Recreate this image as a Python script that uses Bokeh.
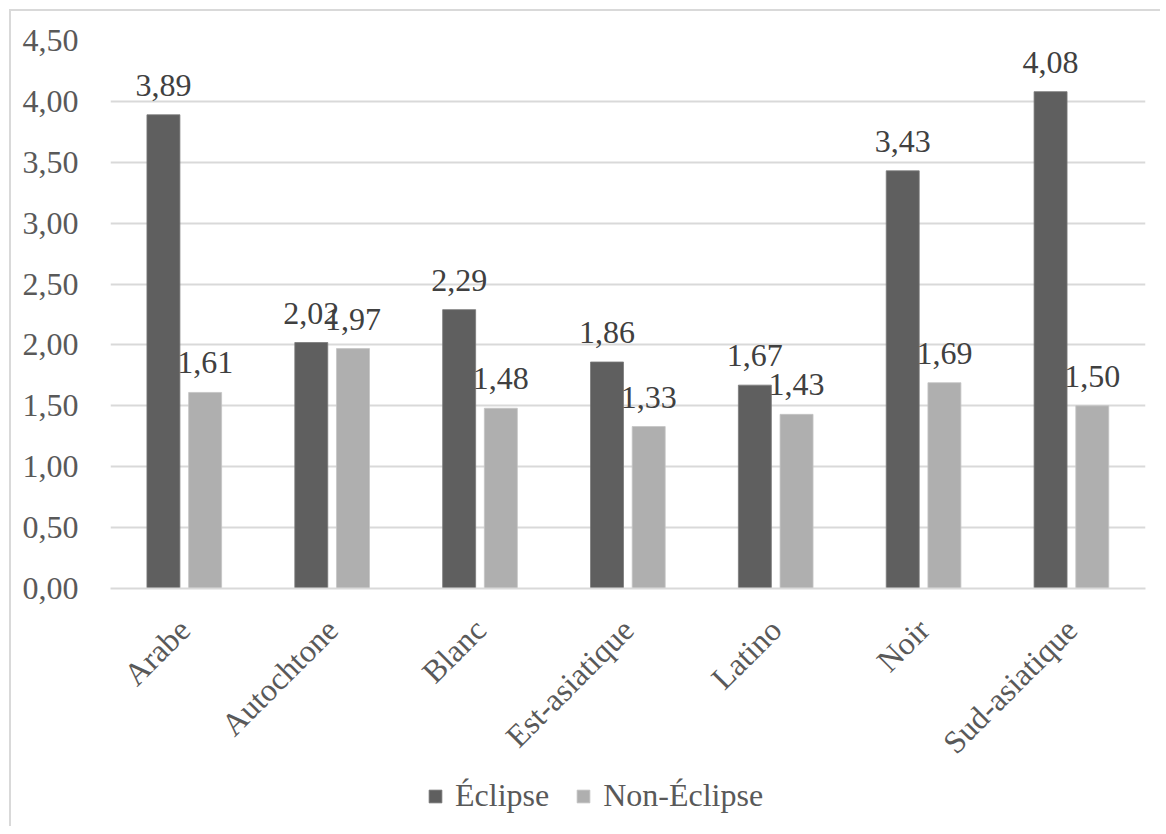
from math import pi
from bokeh.plotting import figure
from bokeh.layouts import column
from bokeh.models import ColumnDataSource, FactorRange, LabelSet, Legend, LegendItem, FixedTicker, CustomJSTickFormatter
from bokeh.transform import dodge
from bokeh.core.properties import value
from bokeh.embed import file_html
from bokeh.resources import INLINE

categories = ["Arabe", "Autochtone", "Blanc", "Est-asiatique", "Latino", "Noir", "Sud-asiatique"]
eclipse = [3.89, 2.02, 2.29, 1.86, 1.67, 3.43, 4.08]
non_eclipse = [1.61, 1.97, 1.48, 1.33, 1.43, 1.69, 1.50]
y_ticks = [0, 0.5, 1.0, 1.5, 2.0, 2.5, 3.0, 3.5, 4.0, 4.5]
series_names = ["Éclipse", "Non-Éclipse"]
series_colors = ["#5f5f5f", "#afafaf"]
series_lines = ["#7a7a7a", "#c4c4c4"]

fmt = lambda v: f"{v:.2f}".replace(".", ",")
src = ColumnDataSource(dict(
    cat=categories, e=eclipse, n=non_eclipse,
    e_lab=[fmt(v) for v in eclipse], n_lab=[fmt(v) for v in non_eclipse],
))

FONT = "Liberation Serif"
FS = "32px"
OFF = 11  # wrapper offset (margin 9 + border 2)
W = 1149
H_MAIN, H_LEG = 765, 50
p = figure(x_range=FactorRange(*categories, range_padding=0), y_range=(0, 4.5),
           width=W, height=H_MAIN, output_backend="svg", toolbar_location=None,
           min_border_left=110 - OFF, min_border_right=W - (1145 - OFF),
           min_border_top=40 - OFF, min_border_bottom=H_MAIN - (588 - OFF))
p.x_range.range_padding = 0
p.outline_line_color = None
p.background_fill_color = "white"
p.border_fill_color = "white"

def bars(fig, s):
    a = fig.vbar(x=dodge("cat", -0.142, range=fig.x_range), top="e", width=0.223, source=s,
                 fill_color=series_colors[0], line_color=series_lines[0], line_width=0.8)
    b = fig.vbar(x=dodge("cat", 0.14, range=fig.x_range), top="n", width=0.223, source=s,
                 fill_color=series_colors[1], line_color=series_lines[1], line_width=0.8)
    return a, b

r1, r2 = bars(p, src)

for xoff, col in ((-0.142, "e"), (0.14, "n")):
    ls = LabelSet(x=dodge("cat", xoff, range=p.x_range), y=col, text=col + "_lab", source=src,
                  text_align="center", text_baseline="alphabetic", y_offset=19,
                  text_font=value(FONT), text_font_size=FS, text_color="#404040")
    p.add_layout(ls)

p.yaxis.ticker = FixedTicker(ticks=y_ticks)
p.yaxis.formatter = CustomJSTickFormatter(code="return tick.toFixed(2).replace('.', ',');")
p.yaxis.axis_line_color = None
p.yaxis.major_tick_line_color = None
p.yaxis.minor_tick_line_color = None
p.yaxis.major_label_text_font = FONT
p.yaxis.major_label_text_font_size = FS
p.yaxis.major_label_text_color = "#595959"
p.yaxis.major_label_standoff = 26

p.xaxis.axis_line_color = "#d9d9d9"
p.xaxis.axis_line_width = 2
p.xaxis.major_tick_line_color = None
p.xaxis.minor_tick_line_color = None
p.xaxis.major_label_orientation = pi / 4
p.xaxis.major_label_text_font = FONT
p.xaxis.major_label_text_font_size = FS
p.xaxis.major_label_text_color = "#595959"
p.xaxis.major_label_standoff = 30

p.xgrid.grid_line_color = None
p.ygrid.grid_line_color = "#d9d9d9"
p.ygrid.grid_line_width = 2

# legend strip below the chart (its bars lie far outside its visible range)
q = figure(width=W, height=H_LEG, output_backend="svg", toolbar_location=None,
           x_axis_location=None, y_axis_location=None,
           x_range=FactorRange(*categories, range_padding=0), y_range=(1000, 1001),
           min_border_left=0, min_border_right=0, min_border_top=0, min_border_bottom=0)
q.outline_line_color = None
q.xgrid.grid_line_color = None
q.ygrid.grid_line_color = None
q.background_fill_color = "white"
q.border_fill_color = "white"
lr = bars(q, src)
legend = Legend(items=[LegendItem(label=n, renderers=[r]) for n, r in zip(series_names, lr)],
                orientation="horizontal", location=(432 - 115, 12),
                label_text_font=FONT, label_text_font_size=FS, label_text_color="#595959",
                glyph_width=16, glyph_height=16, label_standoff=12, spacing=26,
                border_line_color=None, background_fill_alpha=0, padding=0, margin=0)
q.add_layout(legend, "center")

layout = column(p, q, spacing=0)
layout.styles = {"margin-left": "9px", "margin-top": "9px",
                 "border-left": "2px solid #d9d9d9", "border-top": "2px solid #d9d9d9"}
open("out.html", "w").write(file_html(layout, INLINE))
